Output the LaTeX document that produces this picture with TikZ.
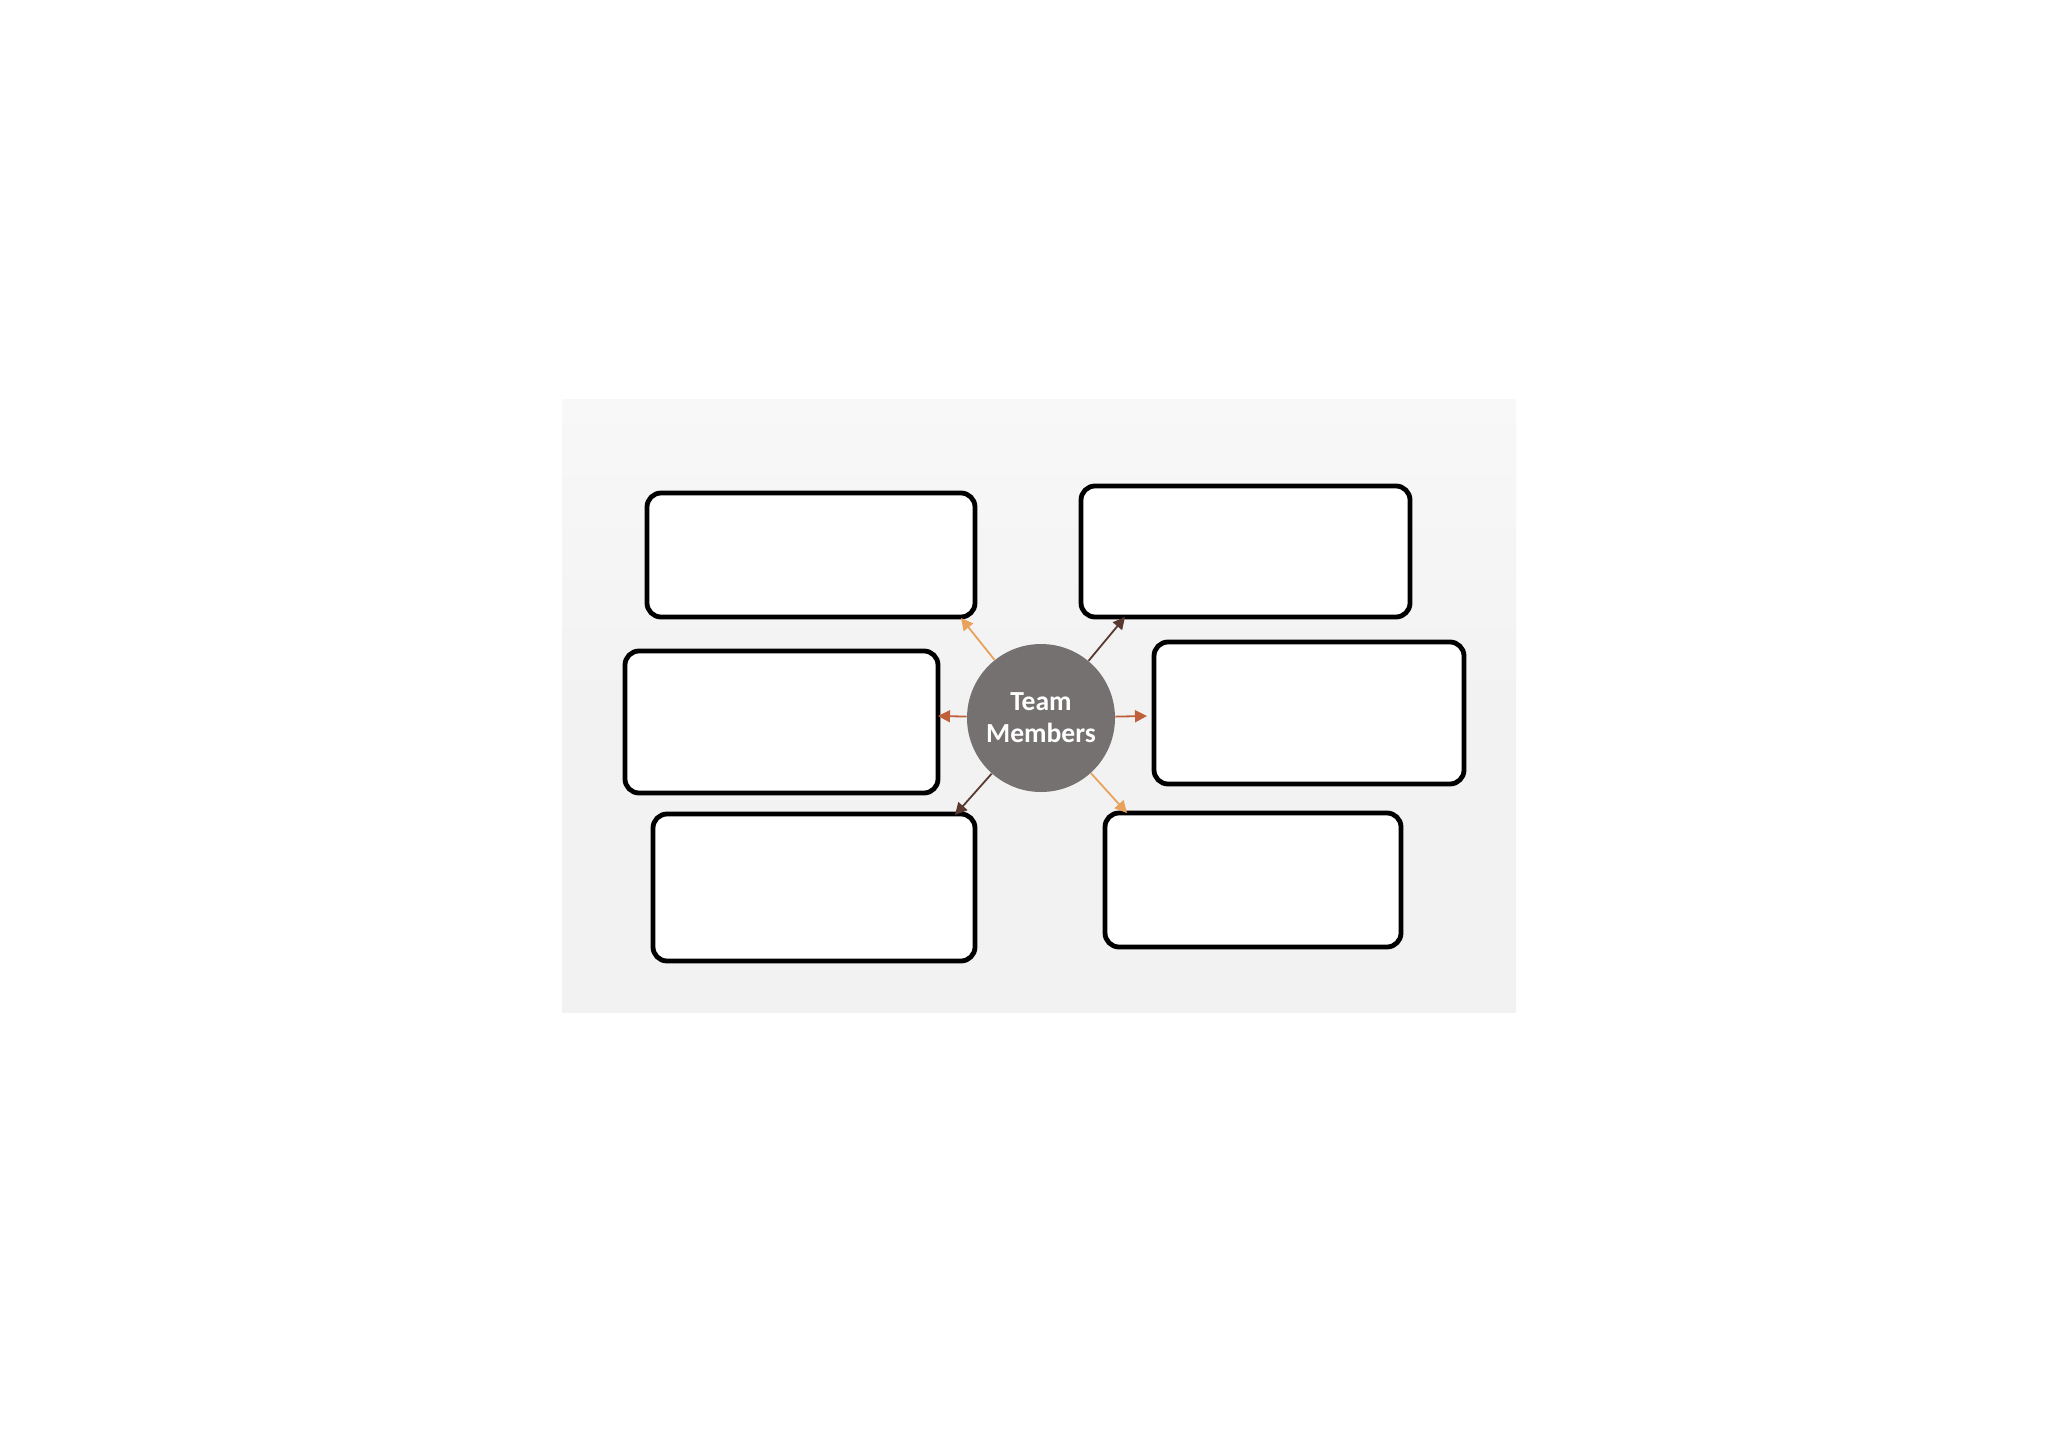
\documentclass[tikz,border=0pt]{standalone}
\usepackage{fontspec}
\setmainfont{Carlito}
\usetikzlibrary{arrows.meta}
\definecolor{bgc}{HTML}{F2F2F2}
\definecolor{bgtop}{HTML}{F8F8F8}
\definecolor{circc}{HTML}{767171}
\definecolor{tan}{HTML}{E8A25C}
\definecolor{dbrown}{HTML}{5A3A30}
\definecolor{rust}{HTML}{C0603A}
\tikzset{
  box/.style={draw=black, line width=2.4pt, fill=white, rounded corners=7pt, inner sep=0pt},
  arr/.style={line width=0.9pt, -{Triangle[length=6pt,width=6pt]}},
}
\begin{document}
\begin{tikzpicture}[x=0.5pt,y=-0.5pt]
\useasboundingbox (0,0) rectangle (2072,1456);
\fill[white] (0,0) rectangle (2072,1456);
\shade[top color=bgtop, bottom color=bgc, middle color=bgc] (562,399) rectangle (1516,1012);
% boxes (full-pixel coordinates)
\node[box, minimum width=164pt, minimum height=62pt] (tl) at (811,555) {};
\node[box, minimum width=164.5pt, minimum height=65.5pt] (tr) at (1245.5,551.5) {};
\node[box, minimum width=156.5pt, minimum height=71pt] (ml) at (781.5,722) {};
\node[box, minimum width=155pt, minimum height=71pt] (mr) at (1309,713) {};
\node[box, minimum width=161pt, minimum height=73.5pt] (bl) at (814,887.5) {};
\node[box, minimum width=148pt, minimum height=67pt] (br) at (1253,880) {};
% centre
\node[circle, fill=circc, minimum size=74pt, inner sep=0pt, text=white,
      font=\fontsize{13.8}{15.9}\selectfont\bfseries, align=center] (c) at (1041,718) {Team\\Members};
% arrow ends
\coordinate (atl) at (961,618);
\coordinate (atr) at (1125,617);
\coordinate (aml) at (938,716);
\coordinate (amr) at (1147,716);
\coordinate (abl) at (955,815);
\coordinate (abr) at (1127,813);
\draw[arr, tan] (c) -- (atl);
\draw[arr, dbrown] (c) -- (atr);
\draw[arr, rust] (c) -- (aml);
\draw[arr, rust] (c) -- (amr);
\draw[arr, dbrown] (c) -- (abl);
\draw[arr, tan] (c) -- (abr);
\end{tikzpicture}
\end{document}
